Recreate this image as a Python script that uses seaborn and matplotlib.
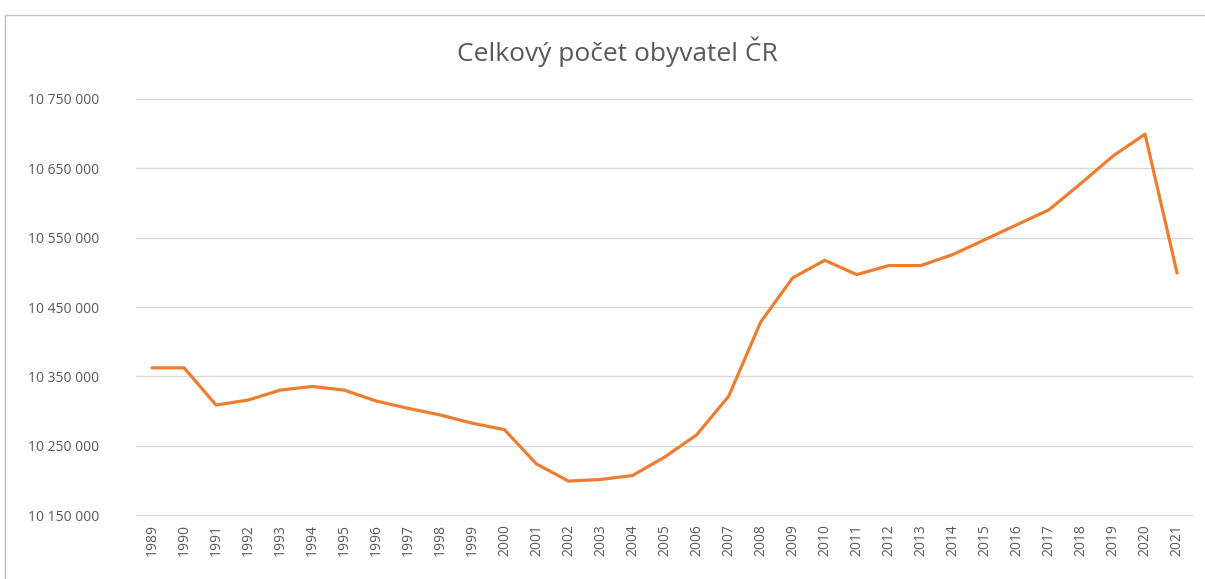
import pandas as pd
import matplotlib
matplotlib.use("Agg")
import matplotlib.pyplot as plt
import seaborn as sns
from matplotlib.ticker import FuncFormatter
from matplotlib.patches import Rectangle

years = list(range(1989, 2022))
population = [10362400, 10362400, 10308800, 10316000, 10330300, 10335600, 10330300,
              10314600, 10304000, 10294500, 10282600, 10273400, 10224000, 10199300,
              10201600, 10207300, 10233800, 10265800, 10321300, 10428300, 10492000,
              10517300, 10496700, 10509700, 10509700, 10525600, 10547000, 10568500,
              10590000, 10628000, 10667500, 10699000, 10499000]
yticks = [10150000, 10250000, 10350000, 10450000, 10550000, 10650000, 10750000]

data = pd.DataFrame({"rok": years, "obyvatel": population})

sns.set_style("white")
plt.rcParams["font.family"] = ["Open Sans", "DejaVu Sans"]

fig = plt.figure(figsize=(12.05, 5.79), dpi=100)
ax = fig.add_axes([0.1129, 0.1088, 0.8772, 0.7219])

sns.lineplot(data=data, x="rok", y="obyvatel", ax=ax, color="#ED7D31", linewidth=2.3)

ax.set_ylim(10149000, 10751000)
ax.set_xlim(1988.5, 2021.5)
ax.set_yticks(yticks)
ax.set_xticks(years)
ax.set_xticklabels([str(y) for y in years], rotation=90)
ax.yaxis.set_major_formatter(FuncFormatter(lambda v, p: f"{int(v):,}".replace(",", " ")))
ax.grid(axis="y", color="#d9d9d9", linewidth=1)
ax.set_axisbelow(True)
for s in ax.spines.values():
    s.set_visible(False)
ax.tick_params(axis="both", length=0, colors="#595959", labelsize=10)
ax.tick_params(axis="x", pad=6)
ax.tick_params(axis="y", pad=78)
for lab in ax.get_yticklabels():
    lab.set_horizontalalignment("left")
ax.set_xlabel("")
ax.set_ylabel("")

fig.text(0.512, 0.91, "Celkový počet obyvatel ČR", ha="center", va="center",
         fontsize=19, color="#595959")

# chart frame (cropped screenshot border)
fig.patches.append(Rectangle((5 / 1205, -0.05), 1.1, 1 - 15 / 579 + 0.05, transform=fig.transFigure,
                             fill=False, edgecolor="#bfbfbf", linewidth=1))

fig.savefig("out.png", dpi=100)
